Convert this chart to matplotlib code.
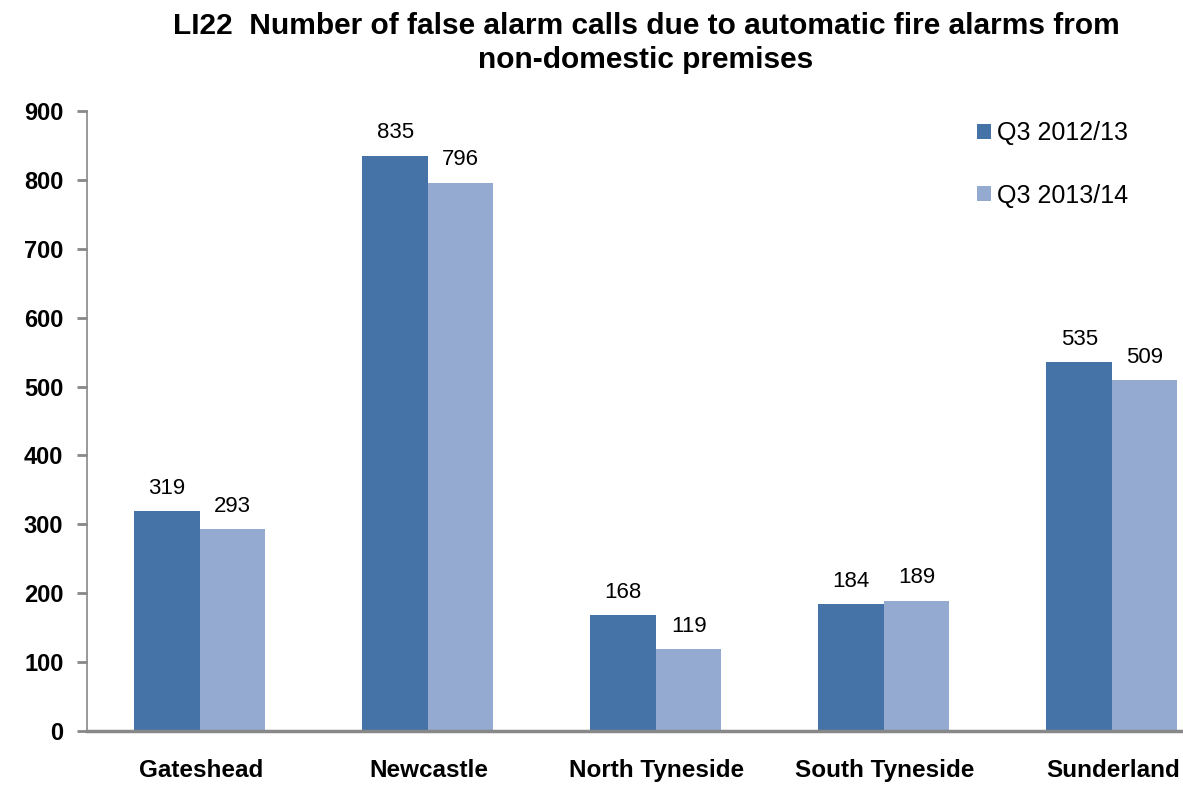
import matplotlib
matplotlib.use("Agg")
import matplotlib.pyplot as plt
import numpy as np

categories = ["Gateshead", "Newcastle", "North Tyneside", "South Tyneside", "Sunderland"]
series_names = ["Q3 2012/13", "Q3 2013/14"]
q3_2012 = [319, 835, 168, 184, 535]
q3_2013 = [293, 796, 119, 189, 509]
yticks = [0, 100, 200, 300, 400, 500, 600, 700, 800, 900]

plt.rcParams['font.family'] = ['Liberation Sans', 'DejaVu Sans']

W, H = 1183, 785
fig = plt.figure(figsize=(W / 100, H / 100), dpi=100)
left = 87 / W
bottom = (H - 731) / H
width = 1140 / W
height = (731 - 111) / H
ax = fig.add_axes([left, bottom, width, height])

c1 = "#4573A8"
c2 = "#95AAD0"
x = np.arange(len(categories))
bw = 0.287
b1 = ax.bar(x - bw / 2 - 0.005, q3_2012, bw, color=c1, label=series_names[0])
b2 = ax.bar(x + bw / 2 - 0.005, q3_2013, bw, color=c2, label=series_names[1])

for bars in (b1, b2):
    for rect in bars:
        v = rect.get_height()
        ax.annotate(f"{int(v)}", (rect.get_x() + rect.get_width() / 2, v),
                    xytext=(0, 9), textcoords="offset points",
                    ha="center", va="bottom", fontsize=16)

ax.set_xlim(-0.5, 4.5)
ax.set_ylim(0, 900)
ax.set_yticks(yticks)
ax.set_yticklabels([str(t) for t in yticks], fontsize=17, fontweight="bold")
ax.set_xticks(x)
ax.set_xticklabels(categories, fontsize=17.5, fontweight="bold")
ax.tick_params(axis="x", length=0, pad=20)
ax.tick_params(axis="y", length=7, width=2, color="#888888", direction="out", pad=10)

for s in ("top", "right"):
    ax.spines[s].set_visible(False)
ax.spines["left"].set_color("#888888")
ax.spines["left"].set_linewidth(1.2)
ax.spines["bottom"].set_color("#888888")
ax.spines["bottom"].set_linewidth(2.5)

leg = ax.legend(loc="upper left", bbox_to_anchor=(880 / 1140, 1.0), frameon=False,
                fontsize=18, handlelength=0.55, handleheight=0.55, handletextpad=0.25,
                labelspacing=1.55, borderaxespad=0.0)

fig.text(0.546, 0.985, "LI22  Number of false alarm calls due to automatic fire alarms from\nnon-domestic premises",
         ha="center", va="top", fontsize=21.5, fontweight="bold", linespacing=1.28)

fig.savefig("out.png", dpi=100)
